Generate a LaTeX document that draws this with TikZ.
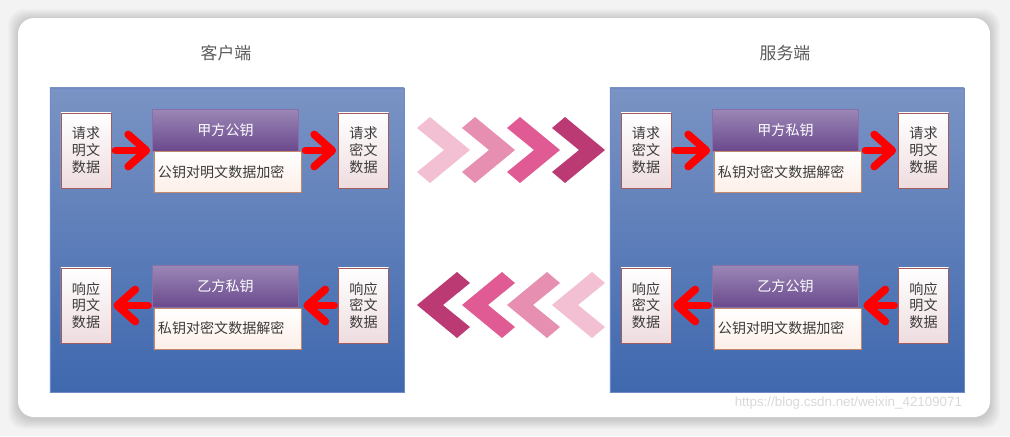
\documentclass[tikz,border=0pt]{standalone}
\usepackage{fontspec}
\setmainfont{Liberation Sans}
\newfontfamily\cjk{Noto Sans CJK SC}
\usetikzlibrary{arrows.meta, positioning}
\definecolor{kbgray}{HTML}{F3F3F3}
\definecolor{kpaneltop}{HTML}{7A93C4}
\definecolor{kpanelbot}{HTML}{3F68AE}
\definecolor{kpanelline}{HTML}{6F8CC4}
\definecolor{kheadtop}{HTML}{9B87B6}
\definecolor{kheadbot}{HTML}{6A498D}
\definecolor{kheadline}{HTML}{8770A8}
\definecolor{kbodyfill}{HTML}{FDEFE8}
\definecolor{kbodyline}{HTML}{C5886A}
\definecolor{kboxbot}{HTML}{EEDCDF}
\definecolor{kboxline}{HTML}{A25C5E}
\definecolor{ktext}{HTML}{3C3C3C}
\definecolor{ktitle}{HTML}{5A5A5A}
\definecolor{kred}{HTML}{FF0000}
\definecolor{chevA}{HTML}{F2BFD3}
\definecolor{chevB}{HTML}{E78FB1}
\definecolor{chevC}{HTML}{E05B93}
\definecolor{chevD}{HTML}{BB3A73}

\begin{document}
\begin{tikzpicture}[x=0.025cm, y=-0.025cm, font=\cjk\fontsize{10}{12}\selectfont, text=ktext,
     panel/.style={draw=kpanelline, top color=kpaneltop, bottom color=kpanelbot, minimum width=8.85cm, minimum height=7.6cm, inner sep=0pt},
     title/.style={text=ktitle, font=\cjk\fontsize{12}{14}\selectfont},
     databox/.style={draw=kboxline, top color=white, bottom color=kboxbot, minimum width=1.25cm, minimum height=1.875cm, align=center, inner sep=0pt},
     keyhead/.style={draw=kheadline, top color=kheadtop, bottom color=kheadbot, text=white, minimum width=3.65cm, minimum height=1.05cm, inner sep=0pt},
     keybody/.style={draw=kbodyline, top color=white, bottom color=kbodyfill, text width=3.475cm, inner sep=0.1cm, minimum height=1.025cm, align=left},
     a/.style={kred, line width=5.5pt, line cap=round, -{Straight Barb[length=4.5mm, width=8mm, round]}, shorten <=3pt, shorten >=1.5pt},
     chevron/.pic={\fill (0,-22) -- (13,-33) -- (53,0) -- (13,33) -- (0,22) -- (27,0) -- cycle;}]
    \useasboundingbox (0,0) rectangle (1010,436);
    \fill[kbgray] (0,0) rectangle (1010,436);
    % soft shadow under the card
    \foreach \d in {1,...,10}
      \fill[black, opacity=0.016, rounded corners=0.4cm] (18-\d,19-\d) rectangle (990+\d,419+\d);
    \fill[white, rounded corners=0.4cm] (18,18) rectangle (990,417);

    % client side
    \node[title] (tcl) at (226,53) {客户端};
    \node[panel] (pcl) at (227,240) {};
    \node[databox] (ql1) at (86,150.5) {请求\\明文\\数据};
    \node[keyhead] (hl1) at (225.5,130) {甲方公钥};
    \node[keybody, below=0pt of hl1, xshift=0.05cm] (bl1) {公钥对明文数据加密};
    \node[databox] (ql2) at (363.5,150.5) {请求\\密文\\数据};
    \node[databox] (ql3) at (86,305.5) {响应\\明文\\数据};
    \node[keyhead] (hl2) at (225.5,286.5) {乙方私钥};
    \node[keybody, below=0pt of hl2, xshift=0.05cm] (bl2) {私钥对密文数据解密};
    \node[databox] (ql4) at (363.5,305.5) {响应\\密文\\数据};
    \draw[a] (ql1.east) -- (ql1.east -| hl1.west);
    \draw[a] (ql2.west -| bl1.east) -- (ql2.west);
    \draw[a] (ql4.west) -- (ql4.west -| bl2.east);
    \draw[a] (ql3.east -| hl2.west) -- (ql3.east);

    % server side
    \node[title] (tsv) at (785,53) {服务端};
    \node[panel] (psv) at (787,240) {};
    \node[databox] (qr1) at (646,150.5) {请求\\密文\\数据};
    \node[keyhead] (hr1) at (785.5,130) {甲方私钥};
    \node[keybody, below=0pt of hr1, xshift=0.05cm] (br1) {私钥对密文数据解密};
    \node[databox] (qr2) at (923.5,150.5) {请求\\明文\\数据};
    \node[databox] (qr3) at (646,305.5) {响应\\密文\\数据};
    \node[keyhead] (hr2) at (785.5,286.5) {乙方公钥};
    \node[keybody, below=0pt of hr2, xshift=0.05cm] (br2) {公钥对明文数据加密};
    \node[databox] (qr4) at (923.5,305.5) {响应\\明文\\数据};
    \draw[a] (qr1.east) -- (qr1.east -| hr1.west);
    \draw[a] (qr2.west -| br1.east) -- (qr2.west);
    \draw[a] (qr4.west) -- (qr4.west -| br2.east);
    \draw[a] (qr3.east -| hr2.west) -- (qr3.east);

    % chevrons between the sides
    \pic[chevA] at (417,150) {chevron};
    \pic[chevB] at (462,150) {chevron};
    \pic[chevC] at (507,150) {chevron};
    \pic[chevD] at (552,150) {chevron};
    \pic[chevD, xscale=-1] at (470,305) {chevron};
    \pic[chevC, xscale=-1] at (515,305) {chevron};
    \pic[chevB, xscale=-1] at (560,305) {chevron};
    \pic[chevA, xscale=-1] at (605,305) {chevron};

    \node[text=black!15, font=\fontsize{9.5}{11}\selectfont, anchor=east] (wm) at (967,403) {https://blog.csdn.net/weixin\_42109071};
  \end{tikzpicture}
\end{document}
